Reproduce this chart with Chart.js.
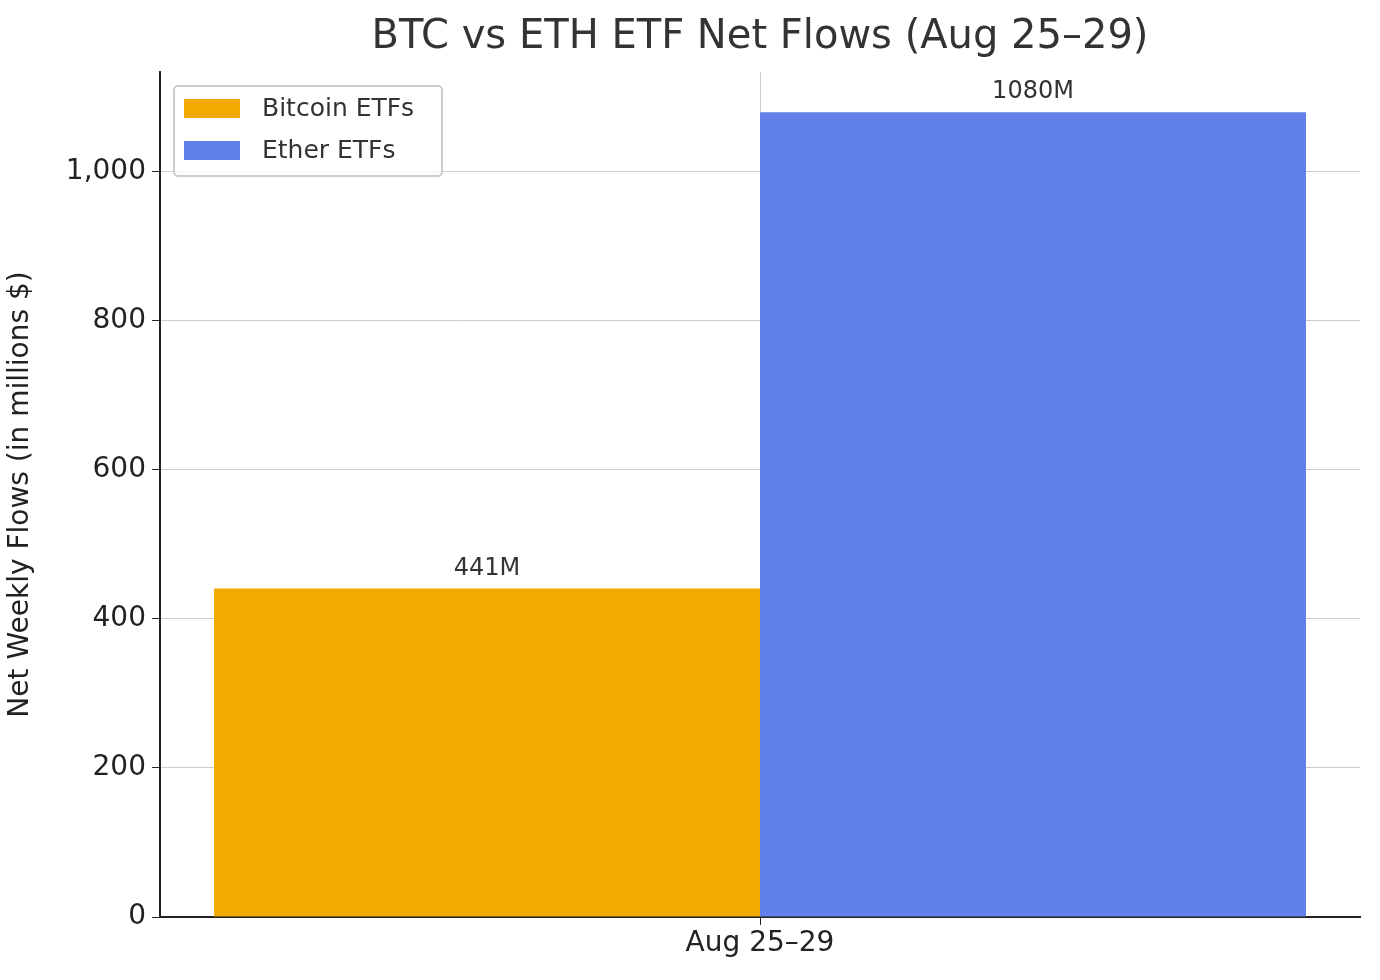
<!DOCTYPE html>
<html><head><meta charset="utf-8">
<script src="https://cdn.jsdelivr.net/npm/chart.js@4/dist/chart.umd.min.js"></script>
<style>body{margin:0;background:#fff}#w{width:1380px;height:980px}</style>
</head><body><div id="w"><canvas id="c"></canvas></div>
<script>
const categories = ["Aug 25–29"];
const seriesNames = ["Bitcoin ETFs", "Ether ETFs"];
const bitcoinValues = [441];
const etherValues = [1080];
const valueLabels = ["441M", "1080M"];
const yTicks = [0, 200, 400, 600, 800, 1000];
const colors = ["#f2aa00", "#6280ea"];
const F = "DejaVu Sans";

const extras = {
  id: "extras",
  afterDatasetsDraw(chart) {
    const ctx = chart.ctx;
    ctx.save();
    ctx.font = "24px " + F; ctx.fillStyle = "#333"; ctx.textAlign = "center"; ctx.textBaseline = "bottom";
    chart.data.datasets.forEach((ds, i) => {
      chart.getDatasetMeta(i).data.forEach((bar) => {
        ctx.fillText(valueLabels[i], bar.x, bar.y - 8);
      });
    });
    // title
    ctx.font = "40px " + F; ctx.fillStyle = "#333"; ctx.textBaseline = "middle";
    ctx.fillText("BTC vs ETH ETF Net Flows (Aug 25–29)", 760, 38);
    // legend
    const a = chart.chartArea;
    const lx = a.left + 14, ly = a.top + 14;
    ctx.fillStyle = "rgba(255,255,255,0.85)"; ctx.strokeStyle = "#ccc"; ctx.lineWidth = 2;
    ctx.beginPath(); ctx.roundRect(lx, ly, 268, 90, 4); ctx.fill(); ctx.stroke();
    ctx.font = "25px " + F; ctx.textAlign = "left";
    seriesNames.forEach((n, i) => {
      const y = ly + 22 + i * 42;
      ctx.fillStyle = colors[i]; ctx.fillRect(lx + 10, y - 9, 56, 19);
      ctx.fillStyle = "#333"; ctx.fillText(n, lx + 88, y + 1);
    });
    ctx.restore();
  }
};

new Chart(document.getElementById("c"), {
  type: "bar",
  data: {
    labels: categories,
    datasets: [
      { label: seriesNames[0], data: bitcoinValues, backgroundColor: colors[0] },
      { label: seriesNames[1], data: etherValues, backgroundColor: colors[1] }
    ]
  },
  options: {
    responsive: true, maintainAspectRatio: false, animation: false,
    layout: { padding: { top: 72, right: 20, left: 0, bottom: 0 } },
    categoryPercentage: 0.91, barPercentage: 1,
    plugins: { legend: { display: false }, tooltip: { enabled: false } },
    scales: {
      x: {
        afterFit: s => { s.height = 63; },
        grid: { offset: false, color: "#ccc", borderDash: [4, 3], tickBorderDash: [], tickColor: "#222", tickLength: 8, z: -1 },
        border: { color: "#222", width: 2 },
        ticks: { color: "#222", font: { family: F, size: 28 }, padding: 2 }
      },
      y: {
        min: 0, max: 1134,
        afterFit: s => { s.width = 160; },
        afterBuildTicks: s => { s.ticks = yTicks.map(v => ({ value: v })); },
        grid: { color: "#ccc", borderDash: [4, 3], tickBorderDash: [], tickColor: "#222", tickLength: 8 },
        border: { color: "#222", width: 2 },
        ticks: { color: "#222", font: { family: F, size: 28 }, padding: 6 },
        title: { display: true, text: "Net Weekly Flows (in millions $)", color: "#222", font: { family: F, size: 28 }, padding: { bottom: 8 } }
      }
    }
  },
  plugins: [extras]
});
</script></body></html>
